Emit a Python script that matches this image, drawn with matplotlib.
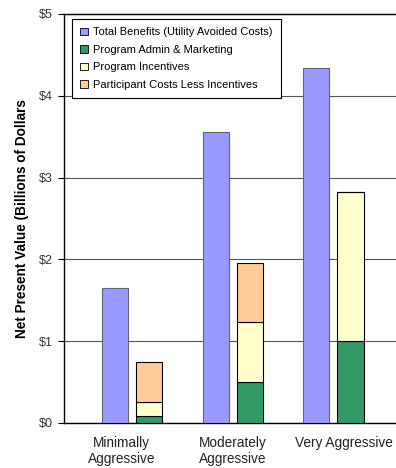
import matplotlib
matplotlib.use("Agg")
import matplotlib.pyplot as plt
import numpy as np
from matplotlib.patches import Patch

categories = ["Minimally\nAggressive", "Moderately\nAggressive", "Very Aggressive"]
total_benefits = [1.65, 3.56, 4.34]
admin_marketing = [0.09, 0.50, 1.00]
incentives = [0.165, 0.735, 1.82]
participant_costs = [0.485, 0.725, 0.0]
yticks = [0, 1, 2, 3, 4, 5]
ytick_labels = ["$0", "$1", "$2", "$3", "$4", "$5"]

c_ben = "#9999FF"
c_adm = "#339966"
c_inc = "#FFFFCC"
c_par = "#FFCC99"

plt.rcParams['font.family'] = ['Liberation Sans', 'DejaVu Sans']

fig = plt.figure(figsize=(3.96, 4.68), dpi=100)
W, H = 396, 468
ax = fig.add_axes([64 / W, (H - 423) / H, (398 - 64) / W, 409 / H])

x = np.arange(len(categories))
bw = 0.258
off = 0.169

ax.bar(x - off, total_benefits, bw, color=c_ben, edgecolor="#666666", linewidth=0.8, zorder=3)
b1 = np.array(admin_marketing)
b2 = b1 + np.array(incentives)
ax.bar(x + off, admin_marketing, bw, color=c_adm, edgecolor="black", linewidth=0.8, zorder=3)
ax.bar(x + off, incentives, bw, bottom=b1, color=c_inc, edgecolor="black", linewidth=0.8, zorder=3)
ax.bar(x + off, participant_costs, bw, bottom=b2, color=c_par, edgecolor="black", linewidth=0.8, zorder=3)

ax.set_xlim(-0.672, 2.64)
ax.set_ylim(0, 5)
ax.set_yticks(yticks)
ax.set_yticklabels(ytick_labels, fontsize=9, color="#333333")
ax.yaxis.grid(True, color="#555555", linewidth=0.8, zorder=0)
ax.set_axisbelow(True)
ax.tick_params(axis='y', direction='out', length=4.5, width=0.8, pad=3.5)
label_shift = np.array([-0.1, 0.0, 0.104])
ax.set_xticks(x + label_shift)
ax.set_xticklabels(categories, fontsize=9.8, linespacing=1.15, color="#222222")
ax.tick_params(axis='x', length=0, pad=9.5)
for s in ["left", "bottom", "top"]:
    ax.spines[s].set_color("black")
    ax.spines[s].set_linewidth(1.0)
ax.spines["right"].set_visible(False)

ax.set_ylabel("Net Present Value (Billions of Dollars", fontsize=9.8, fontweight="bold", labelpad=7)

handles = [
    Patch(facecolor=c_ben, edgecolor="black", linewidth=0.6, label="Total Benefits (Utility Avoided Costs)"),
    Patch(facecolor=c_adm, edgecolor="black", linewidth=0.6, label="Program Admin & Marketing"),
    Patch(facecolor=c_inc, edgecolor="black", linewidth=0.6, label="Program Incentives"),
    Patch(facecolor=c_par, edgecolor="black", linewidth=0.6, label="Participant Costs Less Incentives"),
]
leg = fig.legend(handles=handles, loc="upper left", bbox_to_anchor=(71.7 / W, 1 - 19 / H),
                 fontsize=8, frameon=True, fancybox=False, framealpha=1, edgecolor="black",
                 handlelength=0.7, handleheight=0.7, handletextpad=0.5, labelspacing=0.68,
                 borderpad=0.75, borderaxespad=0)
leg.get_frame().set_linewidth(0.8)

fig.savefig("out.png", dpi=100)
